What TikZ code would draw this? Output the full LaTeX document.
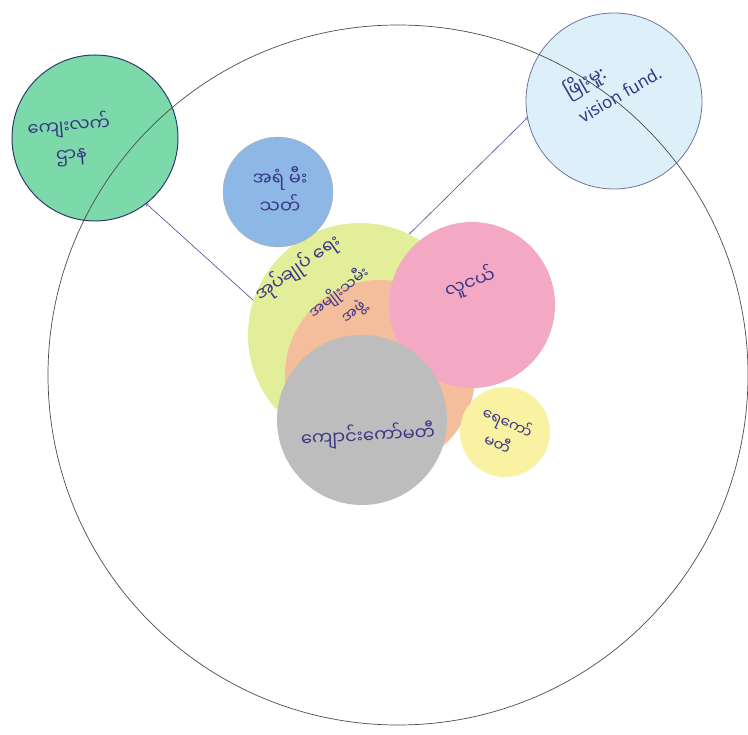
\documentclass[tikz,border=0pt]{standalone}
\usepackage{fontspec}
\setmainfont{Noto Sans}
\newfontfamily\mmfont[Script=Myanmar]{Noto Sans Myanmar UI}

\definecolor{ink}{HTML}{3A3585}
\definecolor{mint}{HTML}{7BD9AA}
\definecolor{navy}{HTML}{2E3C6E}
\definecolor{ice}{HTML}{DDF0FA}
\definecolor{sky}{HTML}{8DB8E6}
\definecolor{lime}{HTML}{E2EE9A}
\definecolor{peach}{HTML}{F4BE9C}
\definecolor{rose}{HTML}{F3A9C3}
\definecolor{ash}{HTML}{BDBDBD}
\definecolor{lemon}{HTML}{F8F2A2}

\begin{document}
\begin{tikzpicture}[x=1pt,y=-1pt,
  blob/.style={circle, inner sep=0pt},
  word/.style={text=ink, font=\mmfont\fontsize{18}{28}\selectfont, align=center, inner sep=1pt},
  link/.style={->, draw=ink!90, semithick}]
  \useasboundingbox (0,0) rectangle (748,735);
  % Groups outside the village
  \node[blob, fill=mint, draw=navy, line width=1pt, minimum size=166] (rural) at (95,138) {};
  \node[blob, fill=ice, draw=navy!70, line width=0.8pt, minimum size=176] (vision) at (614,101) {};

  % Groups inside the village
  \node[blob, fill=lime, minimum size=224] (admin) at (360,335) {};
  \node[blob, fill=peach, minimum size=190] (women) at (380,375) {};
  \node[blob, fill=sky, draw=gray!60, minimum size=110] (fire) at (278,192) {};
  \node[blob, fill=rose, minimum size=166] (youth) at (472,305) {};
  \node[blob, fill=ash, minimum size=170] (school) at (362,420) {};
  \node[blob, fill=lemon, minimum size=90] (water) at (505,432) {};

  % Village boundary
  \node[blob, draw=gray!60!black, line width=0.7pt, minimum size=700] (village) at (398,375) {};

  % Labels
  \node[word, rotate=5] (ruraltext) at (70,140) {ကျေးလက်\\ဌာန};
  \node[word, rotate=30, align=left] (visiontext) at (612,80) {ဖြိုးမှု{\normalfont:}\\{\normalfont\fontsize{17}{24}\selectfont vision fund.}};
  \node[word] (firetext) at (280,190) {အရံ မီး\\သတ်};
  \node[word, rotate=35] (admintext) at (298,268) {အုပ်ချုပ် ရေး};
  \node[word, rotate=38, font=\mmfont\fontsize{15}{24}\selectfont] (womentext) at (346,302) {အမျိုးသမီး\\အဖွဲ့};
  \node[word, rotate=20] (youthtext) at (470,283) {လူငယ်};
  \node[word, rotate=3] (schooltext) at (368,436) {ကျောင်းကော်မတီ};
  \node[word, rotate=-25, font=\mmfont\fontsize{15}{24}\selectfont] (watertext) at (503,432) {ရေကော်\\မတီ};

  % Arrows
  \draw[link] (admin.162) -- (rural.-52);
  \draw[link] (admin.64) -- (vision.-169);
\end{tikzpicture}
\end{document}
